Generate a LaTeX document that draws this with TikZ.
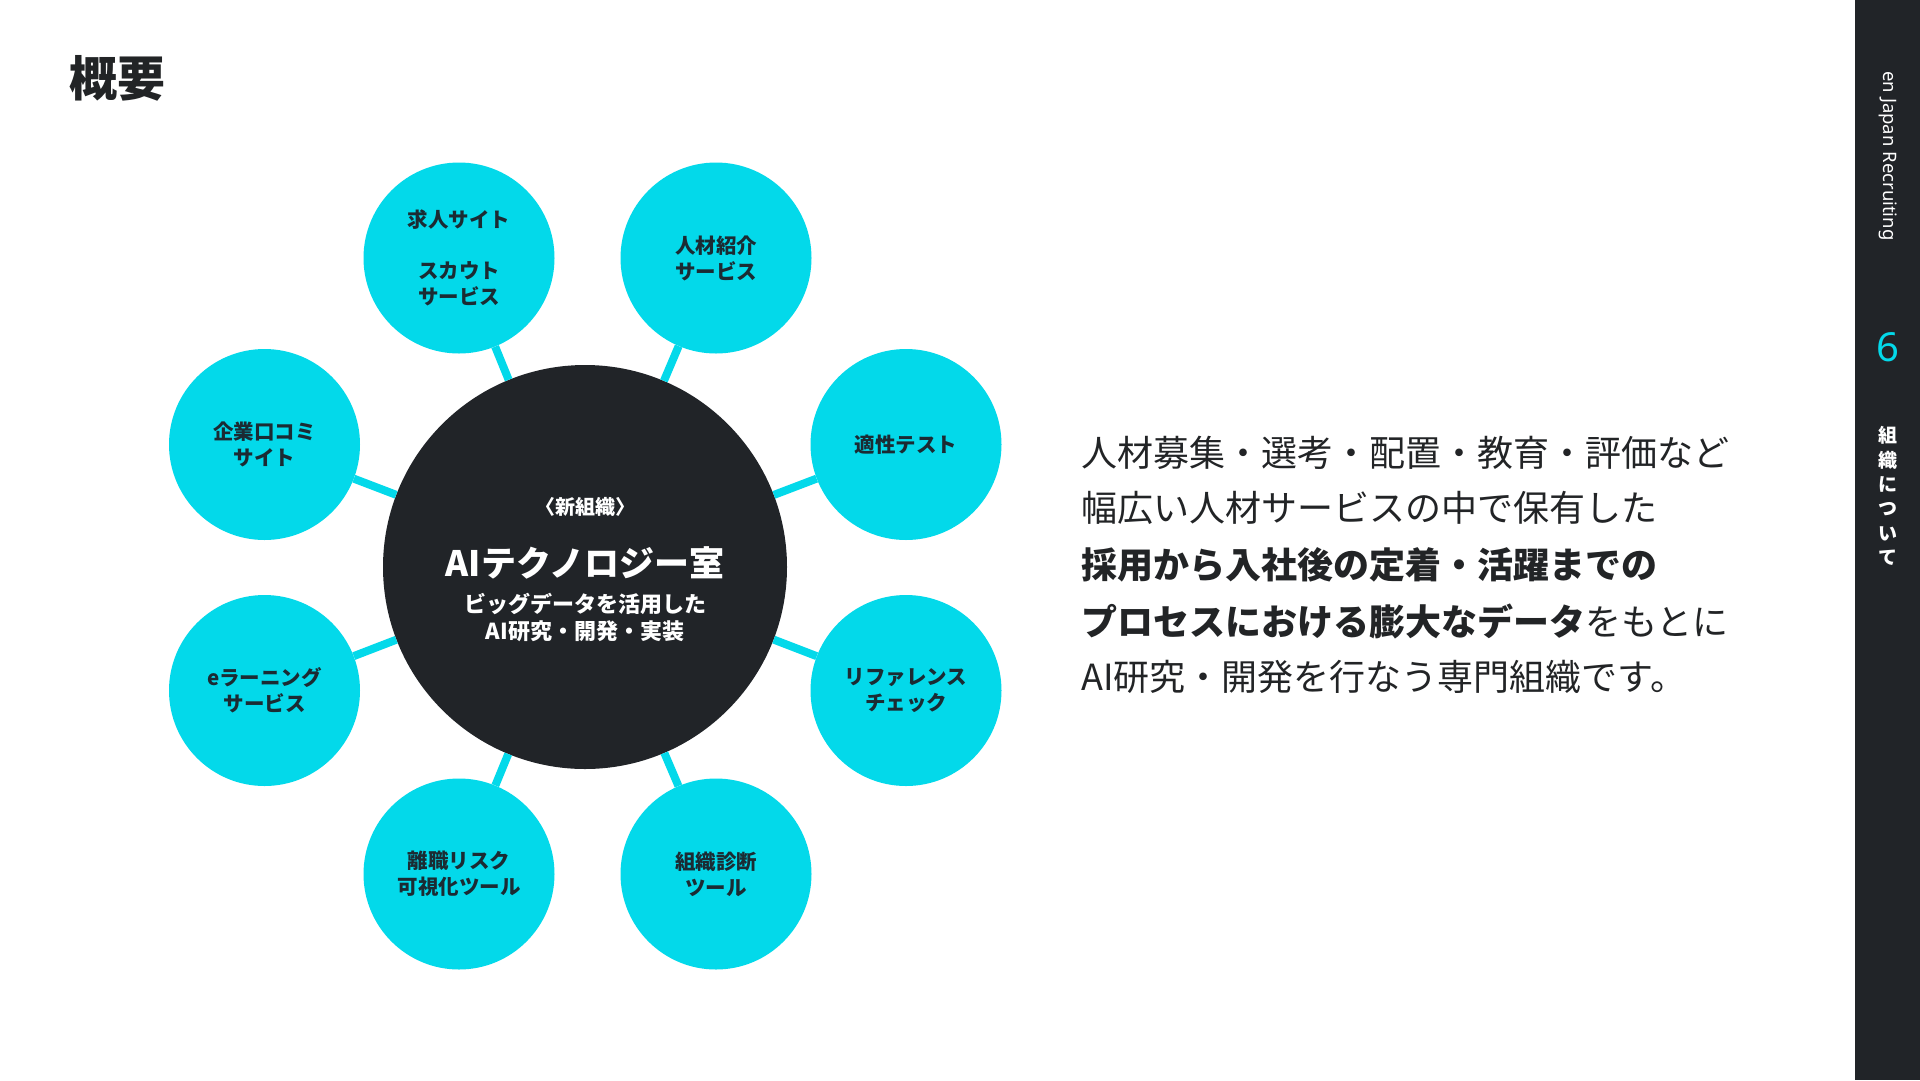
\documentclass[tikz,border=0pt]{standalone}
\usepackage{fontspec}
\setmainfont{Noto Sans CJK JP}
\newfontfamily\latinfont{Noto Sans}
\definecolor{cyanc}{HTML}{03D9EA}
\definecolor{darkc}{HTML}{212428}
\definecolor{labelc}{HTML}{1B2B33}
\definecolor{textc}{HTML}{222426}
\tikzset{
  sat/.style={circle, fill=cyanc, minimum size=191pt, inner sep=0pt, align=center,
    text=labelc, font=\fontsize{20.5}{26}\selectfont\bfseries},
  hubstyle/.style={circle, fill=darkc, minimum size=404pt, inner sep=0pt},
  conn/.style={draw=cyanc, line width=8pt},
  hubtext/.style={text=white, font=\bfseries, inner sep=0pt},
  body/.style={anchor=west, text=textc, inner sep=0pt, font=\fontsize{36}{56}\selectfont}
}
\begin{document}
\begin{tikzpicture}[x=1pt,y=-1pt]
\useasboundingbox (0,0) rectangle (1920,1080);
\fill[white] (0,0) rectangle (1920,1080);
\fill[darkc] (1855,0) rectangle (1920,1080);

% title
\node[anchor=west, text=textc, inner sep=0pt, font=\fontsize{48}{52}\selectfont\bfseries] (title) at (69,78) {概要};

% hub
\node[hubstyle] (hub) at (585,567) {};
\node[hubtext, font=\fontsize{20}{24}\selectfont\bfseries] (h1) at (585,507) {〈新組織〉};
\node[hubtext, font=\fontsize{35}{40}\selectfont\bfseries] (h2) at (585,563) {AIテクノロジー室};
\node[hubtext, font=\fontsize{22}{26}\selectfont\bfseries] (h3) at (585,604) {ビッグデータを活用した};
\node[hubtext, font=\fontsize{22}{26}\selectfont\bfseries] (h4) at (585,631) {AI研究・開発・実装};

% satellites
\node[sat] (s1) at (459,258) {求人サイト\\[25pt]スカウト\\サービス};
\node[sat] (s2) at (716,258) {人材紹介\\サービス};
\node[sat] (s3) at (264.5,444.5) {企業口コミ\\サイト};
\node[sat] (s4) at (906,444.5) {適性テスト};
\node[sat] (s5) at (264.5,690.5) {eラーニング\\サービス};
\node[sat] (s6) at (906,690.5) {リファレンス\\チェック};
\node[sat] (s7) at (459,874) {離職リスク\\可視化ツール};
\node[sat] (s8) at (716,874) {組織診断\\ツール};

\foreach \s in {s1,s2,s3,s4,s5,s6,s7,s8}{
  \draw[conn] (hub) -- (\s);
}

% right text
\node[body] (t1) at (1081,453) {人材募集・選考・配置・教育・評価など};
\node[body] (t2) at (1081,508) {幅広い人材サービスの中で保有した};
\node[body] (t3) at (1081,565) {\bfseries 採用から入社後の定着・活躍までの};
\node[body] (t4) at (1081,621) {{\bfseries プロセスにおける膨大なデータ}をもとに};
\node[body] (t5) at (1081,677) {AI研究・開発を行なう専門組織です。};

% sidebar
\node[rotate=-90, text=white, inner sep=0pt, font=\latinfont\fontsize{18.5}{22}\selectfont] (brand) at (1888,156) {en Japan Recruiting};
\node[text=cyanc, inner sep=0pt, font=\latinfont\fontsize{40}{40}\selectfont] (page) at (1888,347) {6};
\node[text=white, align=center, inner sep=0pt, font=\fontsize{19}{24.4}\selectfont\bfseries] (sec) at (1888,496) {組\\織\\に\\つ\\い\\て};
\end{tikzpicture}
\end{document}
